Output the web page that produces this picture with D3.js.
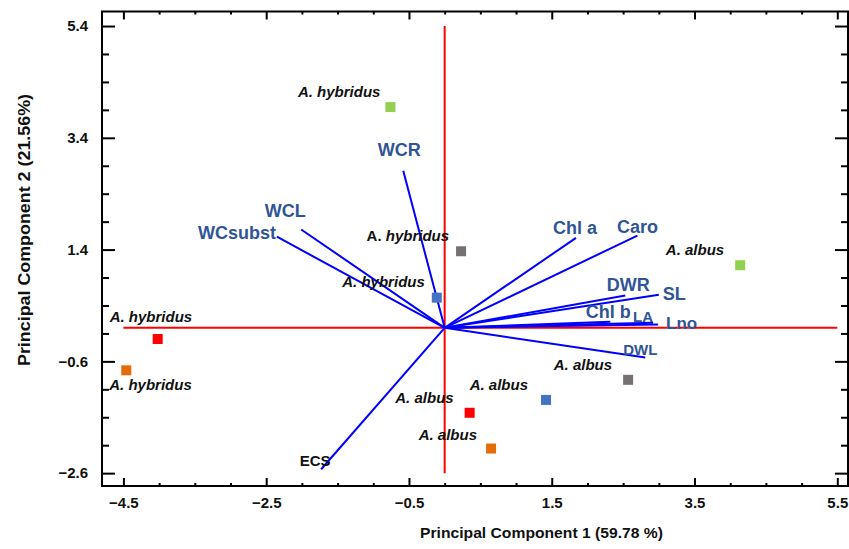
<!DOCTYPE html>
<html>
<head>
<meta charset="utf-8">
<script src="https://cdn.jsdelivr.net/npm/d3@7/dist/d3.min.js"></script>
<style>
  body { margin: 0; background: #fff; }
  text { font-family: "Liberation Sans", Arial, sans-serif; font-weight: bold; }
</style>
</head>
<body>
<svg id="chart" width="849" height="549"></svg>
<script>
(function(d3) {

  // Sample scores (PC1, PC2)
  var sampleSpecies = ["A. hybridus", "A. hybridus", "A. hybridus", "A. hybridus", "A. hybridus",
                       "A. albus", "A. albus", "A. albus", "A. albus", "A. albus"];
  var sampleGroup = ["g1", "g2", "g3", "g4", "g5", "g1", "g2", "g3", "g4", "g5"];
  var samplePC1 = [-0.76, 0.23, -0.11, -4.02, -4.46, 4.14, 2.57, 1.42, 0.35, 0.65];
  var samplePC2 = [3.95, 1.37, 0.54, -0.20, -0.76, 1.12, -0.93, -1.29, -1.52, -2.16];

  // Variable loadings (vector tips)
  var varNames = ["WCR", "WCL", "WCsubst", "ECS", "Chl a", "Caro", "DWR", "SL", "Chl b", "LA", "Lno", "DWL"];
  var varPC1 = [-0.58, -2.01, -2.35, -1.73, 1.84, 2.70, 2.53, 3.00, 2.32, 2.92, 2.99, 2.81];
  var varPC2 = [2.81, 1.76, 1.63, -2.53, 1.61, 1.65, 0.58, 0.59, 0.11, 0.09, 0.06, -0.53];

  // Tick labels
  var xTicks = [-4.5, -2.5, -0.5, 1.5, 3.5, 5.5];
  var yTicks = [-2.6, -0.6, 1.4, 3.4, 5.4];

  var xTitle = "Principal Component 1 (59.78 %)",
      yTitle = "Principal Component 2 (21.56%)";

  //** Layout **//

  var left = 102, right = 848, top = 11.5, bottom = 486;

  var x = d3.scaleLinear().domain([-4.8, 5.65]).range([left, right]);
  var y = d3.scaleLinear().domain([-2.83, 5.66]).range([bottom, top]);

  var color = d3.scaleOrdinal()
    .domain(["g1", "g2", "g3", "g4", "g5"])
    .range(["#92d050", "#767171", "#4472c4", "#ff0000", "#e46c0a"]);

  // label placement relative to the mark (px)
  var sampleLabelPos = [
    {dx: -10, dy: -10, a: "end"},
    {dx: -12, dy: -10, a: "end", upright: true},
    {dx: -12, dy: -11, a: "end"},
    {dx: -48, dy: -17, a: "start"},
    {dx: -17, dy: 20, a: "start"},
    {dx: -16, dy: -10, a: "end"},
    {dx: -16, dy: -10, a: "end"},
    {dx: -18, dy: -10, a: "end"},
    {dx: -16, dy: -10, a: "end"},
    {dx: -14, dy: -9, a: "end"}
  ];
  var varLabelPos = [
    {dx: -4, dy: -15, a: "middle", s: 18},
    {dx: -16, dy: -12, a: "middle", s: 18},
    {dx: -1, dy: 2, a: "end", s: 18},
    {dx: -6, dy: -3, a: "middle", s: 15, c: "#111"},
    {dx: -1, dy: -4, a: "middle", s: 18},
    {dx: 0, dy: -3, a: "middle", s: 18},
    {dx: 3, dy: -4, a: "middle", s: 18},
    {dx: 4, dy: 5, a: "start", s: 18},
    {dx: -2, dy: -4, a: "middle", s: 18},
    {dx: -20, dy: -1, a: "start", s: 15},
    {dx: 8, dy: 5, a: "start", s: 17},
    {dx: -5, dy: -2, a: "middle", s: 15}
  ];

  var svg = d3.select("#chart");

  //** Axes (box with inward ticks on all sides) **//

  function minor(ticks) {
    var lo = d3.min(ticks), hi = d3.max(ticks);
    return d3.range(lo, hi + 0.01, 0.5)
      .map(function(v) { return Math.round(v * 10) / 10; })
      .filter(function(v) { return ticks.indexOf(v) < 0; });
  }

  function drawAxis(axis, transform) {
    var g = svg.append("g").attr("transform", transform).call(axis);
    g.select(".domain").remove();
    g.selectAll("line").attr("stroke", "#000").attr("stroke-width", 2);
    g.selectAll("text").attr("fill", "#111").style("font-size", "15px")
      .style("font-family", "'Liberation Sans', Arial, sans-serif").style("font-weight", "bold");
    return g;
  }

  var fmt = d3.format(".1f");

  drawAxis(d3.axisBottom(x).tickValues(xTicks).tickSize(-8).tickPadding(11).tickFormat(fmt),
    "translate(0," + bottom + ")");
  drawAxis(d3.axisBottom(x).tickValues(minor(xTicks)).tickSize(-3).tickFormat(""),
    "translate(0," + bottom + ")");
  drawAxis(d3.axisTop(x).tickValues(xTicks).tickSize(-8).tickFormat(""),
    "translate(0," + top + ")");
  drawAxis(d3.axisTop(x).tickValues(minor(xTicks)).tickSize(-3).tickFormat(""),
    "translate(0," + top + ")");

  drawAxis(d3.axisLeft(y).tickValues(yTicks).tickSize(-13).tickPadding(14).tickFormat(fmt),
    "translate(" + left + ",0)");
  drawAxis(d3.axisLeft(y).tickValues(minor(yTicks)).tickSize(-7).tickFormat(""),
    "translate(" + left + ",0)");
  drawAxis(d3.axisRight(y).tickValues(yTicks).tickSize(-13).tickFormat(""),
    "translate(" + right + ",0)");
  drawAxis(d3.axisRight(y).tickValues(minor(yTicks)).tickSize(-7).tickFormat(""),
    "translate(" + right + ",0)");

  svg.append("rect")
    .attr("x", left).attr("y", top)
    .attr("width", right - left).attr("height", bottom - top)
    .attr("fill", "none").attr("stroke", "#000").attr("stroke-width", 2);

  // Axis titles
  svg.append("text")
    .attr("x", (420 + 663) / 2).attr("y", 538)
    .attr("text-anchor", "middle")
    .attr("textLength", 243).attr("lengthAdjust", "spacingAndGlyphs")
    .style("font-size", "15.5px").attr("fill", "#111")
    .text(xTitle);

  svg.append("text")
    .attr("transform", "translate(30,230) rotate(-90)")
    .attr("text-anchor", "middle")
    .attr("textLength", 272).attr("lengthAdjust", "spacingAndGlyphs")
    .style("font-size", "16px").attr("fill", "#111")
    .text(yTitle);

  //** Crosshair at the origin **//

  svg.append("line")
    .attr("x1", x(d3.min(xTicks))).attr("x2", x(d3.max(xTicks)))
    .attr("y1", y(0)).attr("y2", y(0))
    .attr("stroke", "#ff0000").attr("stroke-width", 2);
  svg.append("line")
    .attr("x1", x(0)).attr("x2", x(0))
    .attr("y1", y(d3.min(yTicks))).attr("y2", y(d3.max(yTicks)))
    .attr("stroke", "#ff0000").attr("stroke-width", 2);

  //** Loading vectors **//

  var vars = varNames.map(function(n, i) {
    return {name: n, pc1: varPC1[i], pc2: varPC2[i], pos: varLabelPos[i]};
  });

  svg.append("g").selectAll("line")
    .data(vars).enter().append("line")
    .attr("x1", x(0)).attr("y1", y(0))
    .attr("x2", function(d) { return x(d.pc1); })
    .attr("y2", function(d) { return y(d.pc2); })
    .attr("stroke", "#0000ff").attr("stroke-width", 2);

  //** Sample points **//

  var samples = sampleSpecies.map(function(s, i) {
    return {species: s, group: sampleGroup[i], pc1: samplePC1[i], pc2: samplePC2[i], pos: sampleLabelPos[i]};
  });

  svg.append("g").selectAll("rect")
    .data(samples).enter().append("rect")
    .attr("x", function(d) { return x(d.pc1) - 5; })
    .attr("y", function(d) { return y(d.pc2) - 5; })
    .attr("width", 10).attr("height", 10)
    .attr("fill", function(d) { return color(d.group); });

  var sl = svg.append("g").selectAll("text")
    .data(samples).enter().append("text")
    .attr("x", function(d) { return x(d.pc1) + d.pos.dx; })
    .attr("y", function(d) { return y(d.pc2) + d.pos.dy; })
    .attr("text-anchor", function(d) { return d.pos.a; })
    .style("font-size", "15px")
    .attr("fill", "#111");
  sl.append("tspan")
    .style("font-style", function(d) { return d.pos.upright ? "normal" : "italic"; })
    .text(function(d) { return d.species.split(" ")[0] + " "; });
  sl.append("tspan")
    .style("font-style", "italic")
    .text(function(d) { return d.species.split(" ")[1]; });

  //** Vector labels **//

  svg.append("g").selectAll("text")
    .data(vars).enter().append("text")
    .attr("x", function(d) { return x(d.pc1) + d.pos.dx; })
    .attr("y", function(d) { return y(d.pc2) + d.pos.dy; })
    .attr("text-anchor", function(d) { return d.pos.a; })
    .style("font-size", function(d) { return d.pos.s + "px"; })
    .attr("fill", function(d) { return d.pos.c || "#2f5597"; })
    .text(function(d) { return d.name; });

})(d3);
</script>
</body>
</html>
